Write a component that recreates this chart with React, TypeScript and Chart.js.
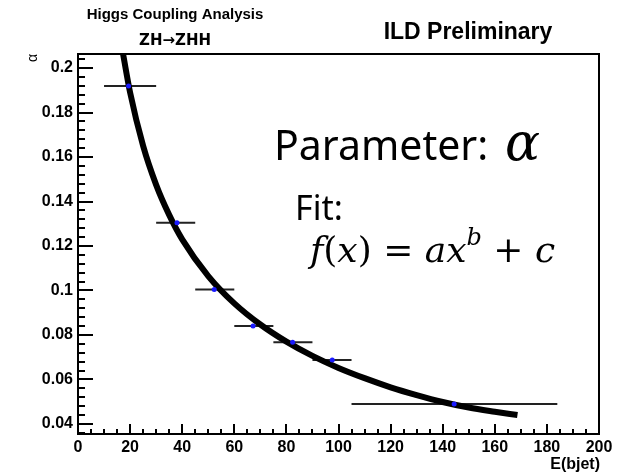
import React, { useEffect, useRef } from 'react';
import { Chart, registerables } from 'chart.js';

Chart.register(...registerables);

// Measured points (bin centroid, alpha) with horizontal bin widths
const binCenters = [19.4, 38.0, 52.3, 67.2, 82.4, 97.6, 144.4];
const alphaValues = [0.1919, 0.1305, 0.1005, 0.084, 0.0767, 0.0688, 0.049];
const binLow = [10, 30, 45, 60, 75, 90, 105];
const binHigh = [30, 45, 60, 75, 90, 105, 184];

// Fit curve f(x) = a x^b + c
const fitX = [17.3, 20, 25, 30, 35, 40, 50, 60, 70, 80, 90, 100, 110, 120, 130, 140, 150, 160, 168.7];
const fitY = [0.2063, 0.189, 0.165, 0.1475, 0.134, 0.123, 0.1065, 0.0942, 0.0847, 0.077, 0.0706, 0.0652, 0.0606, 0.0565, 0.053, 0.0499, 0.0474, 0.0455, 0.044];

// Axis ticks
const xTicks = [0, 20, 40, 60, 80, 100, 120, 140, 160, 180, 200];
const yTicks = [0.04, 0.06, 0.08, 0.1, 0.12, 0.14, 0.16, 0.18, 0.2];
const xMinorStep = 5;
const yMinorStep = 0.004;

const X_MIN = 0;
const X_MAX = 200;
const Y_MIN = 0.0355;
const Y_MAX = 0.2063;

const SANS = '"Liberation Sans", Arial, sans-serif';

const rootPlugin = {
  id: 'rootStyle',
  afterDraw(chart: any) {
    const ctx = chart.ctx as CanvasRenderingContext2D;
    const { left, right, top, bottom } = chart.chartArea;
    const xs = chart.scales.x;
    const ys = chart.scales.y;
    ctx.save();
    ctx.strokeStyle = '#000';
    ctx.fillStyle = '#000';

    // ticks (inside)
    ctx.lineWidth = 2;
    ctx.beginPath();
    for (let v = X_MIN; v <= X_MAX + 1e-9; v += xMinorStep) {
      const px = Math.round(xs.getPixelForValue(v));
      const major = xTicks.some((t) => Math.abs(t - v) < 1e-6);
      ctx.moveTo(px, bottom);
      ctx.lineTo(px, bottom - (major ? 10 : 5));
    }
    for (let v = 0.036; v <= Y_MAX + 1e-9; v += yMinorStep) {
      const py = Math.round(ys.getPixelForValue(v));
      const major = yTicks.some((t) => Math.abs(t - v) < 1e-6);
      ctx.moveTo(left, py);
      ctx.lineTo(left + (major ? 15 : 7), py);
    }
    ctx.stroke();

    // frame
    ctx.lineWidth = 2;
    ctx.strokeRect(left, top, right - left, bottom - top);

    // ROOT texts
    ctx.textAlign = 'center';
    ctx.textBaseline = 'middle';
    ctx.font = `bold 15px ${SANS}`;
    ctx.fillText('Higgs Coupling Analysis', 175, 15);
    ctx.font = `bold 15px "DejaVu Sans", ${SANS}`;
    ctx.fillText('ZH\u2192ZHH', 175, 41);
    ctx.font = `bold 23px ${SANS}`;
    ctx.fillText('ILD Preliminary', 468, 33);

    ctx.font = `bold 16px ${SANS}`;
    ctx.textAlign = 'right';
    ctx.fillText('E(bjet)', 600, 465);

    ctx.save();
    ctx.translate(33, 58);
    ctx.rotate(-Math.PI / 2);
    ctx.textAlign = 'center';
    ctx.font = `14px ${SANS}`;
    ctx.fillText('\u03b1', 0, 0);
    ctx.restore();

    // Annotations
    ctx.textAlign = 'left';
    ctx.textBaseline = 'alphabetic';
    ctx.font = `41px "Noto Sans", sans-serif`;
    ctx.fillText('Parameter:', 274, 160);
    ctx.font = `italic 52px "DejaVu Serif", serif`;
    ctx.fillText('\u03b1', 505, 160);

    ctx.font = `34px "Noto Sans", sans-serif`;
    ctx.fillText('Fit:', 295, 220);

    const it = `italic 36px "DejaVu Serif", serif`;
    const rm = `36px "DejaVu Serif", serif`;
    const sup = `italic 24px "DejaVu Serif", serif`;
    const parts: [string, string, number][] = [
      ['f', it, 0], ['(', rm, 0], ['x', it, 0], [')', rm, 0], [' = ', rm, 0],
      ['a', it, 0], ['x', it, 0], ['b', sup, -17], [' + ', rm, 0], ['c', it, 0],
    ];
    let cx = 310;
    for (const [t, f, dy] of parts) {
      ctx.font = f;
      ctx.fillText(t, cx, 262 + dy);
      cx += ctx.measureText(t).width;
    }
    ctx.restore();
  },
};

export default function App() {
  const ref = useRef<HTMLCanvasElement | null>(null);
  useEffect(() => {
    document.body.style.margin = '0';
    if (!ref.current) return;
    const errorBars: any[] = [];
    binCenters.forEach((_, i) => {
      errorBars.push({ x: binLow[i], y: alphaValues[i] });
      errorBars.push({ x: binHigh[i], y: alphaValues[i] });
      errorBars.push({ x: binHigh[i], y: null });
    });
    const chart = new Chart(ref.current, {
      type: 'line',
      data: {
        datasets: [
          {
            type: 'scatter',
            data: binCenters.map((x, i) => ({ x, y: alphaValues[i] })),
            backgroundColor: '#1a1aff',
            borderColor: '#1a1aff',
            pointRadius: 2.5,
            pointBorderWidth: 0,
            order: 0,
          },
          {
            data: fitX.map((x, i) => ({ x, y: fitY[i] })),
            borderColor: '#000',
            borderWidth: 6,
            pointRadius: 0,
            cubicInterpolationMode: 'monotone',
            fill: false,
            order: 1,
          },
          {
            data: errorBars,
            borderColor: '#222',
            borderWidth: 2,
            pointRadius: 0,
            spanGaps: false,
            fill: false,
            order: 2,
          },
        ],
      },
      options: {
        responsive: false,
        animation: false,
        devicePixelRatio: 1,
        layout: { padding: { left: 0, top: 54, right: 36, bottom: 16 } },
        plugins: { legend: { display: false }, tooltip: { enabled: false }, title: { display: false } },
        scales: {
          x: {
            type: 'linear',
            min: X_MIN,
            max: X_MAX,
            afterBuildTicks: (s: any) => { s.ticks = xTicks.map((v) => ({ value: v })); },
            afterFit: (s: any) => { s.height = 25; },
            grid: { display: false, drawTicks: false },
            border: { display: false },
            ticks: {
              padding: 4,
              color: '#000',
              font: { family: SANS, size: 16, weight: 'bold' },
              maxRotation: 0,
              autoSkip: false,
              callback: (v: any) => String(v),
            },
          },
          y: {
            type: 'linear',
            min: Y_MIN,
            max: Y_MAX,
            afterBuildTicks: (s: any) => { s.ticks = yTicks.map((v) => ({ value: v })); },
            afterFit: (s: any) => { s.width = 78; },
            grid: { display: false, drawTicks: false },
            border: { display: false },
            ticks: {
              padding: 5,
              color: '#000',
              font: { family: SANS, size: 16, weight: 'bold' },
              autoSkip: false,
              callback: (v: any) => String(+Number(v).toFixed(3)),
            },
          },
        },
      },
      plugins: [rootPlugin],
    } as any);
    return () => chart.destroy();
  }, []);
  return <canvas ref={ref} width={635} height={475} style={{ display: 'block' }} />;
}
